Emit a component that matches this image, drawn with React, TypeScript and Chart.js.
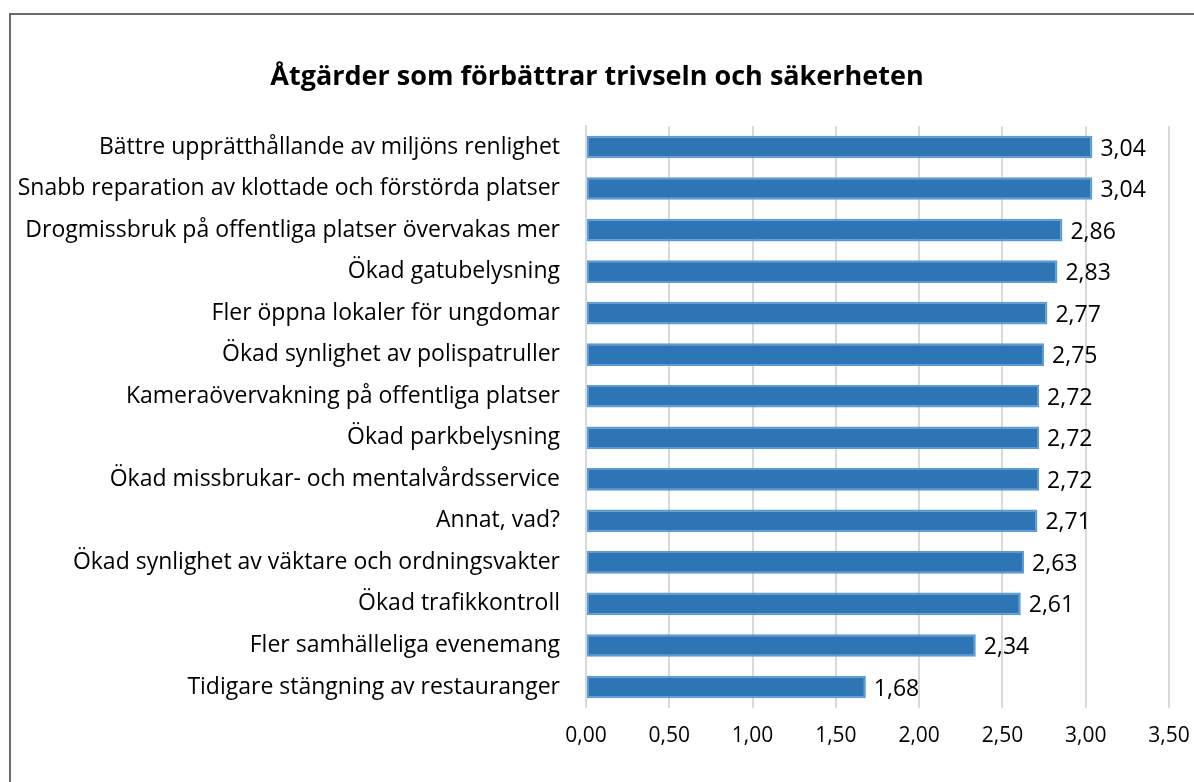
import React, { useEffect, useLayoutEffect, useRef } from "react";
import { Chart, registerables } from "chart.js";

Chart.register(...registerables);

const TITLE = "Åtgärder som förbättrar trivseln och säkerheten";

const categories: string[] = [
  "Bättre upprätthållande av miljöns renlighet",
  "Snabb reparation av klottade och förstörda platser",
  "Drogmissbruk på offentliga platser övervakas mer",
  "Ökad gatubelysning",
  "Fler öppna lokaler för ungdomar",
  "Ökad synlighet av polispatruller",
  "Kameraövervakning på offentliga platser",
  "Ökad parkbelysning",
  "Ökad missbrukar- och mentalvårdsservice",
  "Annat, vad?",
  "Ökad synlighet av väktare och ordningsvakter",
  "Ökad trafikkontroll",
  "Fler samhälleliga evenemang",
  "Tidigare stängning av restauranger",
];

const values: number[] = [3.04, 3.04, 2.86, 2.83, 2.77, 2.75, 2.72, 2.72, 2.72, 2.71, 2.63, 2.61, 2.34, 1.68];

const xTicks: number[] = [0, 0.5, 1, 1.5, 2, 2.5, 3, 3.5];

const FONT = "'Open Sans', Lato, sans-serif";
const fmt = (v: number) => v.toFixed(2).replace(".", ",");

const labelPlugin = {
  id: "barValueLabels",
  afterDatasetsDraw(chart: any) {
    const ctx = chart.ctx;
    const meta = chart.getDatasetMeta(0);
    ctx.save();
    ctx.font = `23px ${FONT}`;
    ctx.fillStyle = "#000000";
    ctx.textAlign = "left";
    ctx.textBaseline = "middle";
    meta.data.forEach((bar: any, i: number) => {
      ctx.fillText(fmt(values[i]), bar.x + 8, bar.y + 2);
    });
    ctx.restore();
  },
};

const W = 1194;
const H = 782;

export default function App() {
  const canvasRef = useRef<HTMLCanvasElement | null>(null);

  useLayoutEffect(() => {
    document.body.style.margin = "0";
    document.body.style.overflow = "hidden";
  }, []);

  useEffect(() => {
    if (!canvasRef.current) return;
    const chart = new Chart(canvasRef.current, {
      type: "bar",
      data: {
        labels: categories,
        datasets: [
          {
            data: values,
            backgroundColor: "#2E75B6",
            borderColor: "#5B9BD5",
            borderWidth: 2,
            borderSkipped: false,
            categoryPercentage: 1,
            barPercentage: 0.545,
          },
        ],
      },
      options: {
        indexAxis: "y",
        animation: false,
        responsive: false,
        maintainAspectRatio: false,
        layout: { padding: 0 },
        plugins: {
          legend: { display: false },
          tooltip: { enabled: false },
          title: {
            display: true,
            text: TITLE,
            color: "#000000",
            font: { family: FONT, size: 27, weight: "bold", lineHeight: 1.2 },
            padding: { top: 61, bottom: 32.8 },
          },
        },
        scales: {
          x: {
            min: 0,
            max: 3.5,
            afterBuildTicks: (scale: any) => {
              scale.ticks = xTicks.map((v) => ({ value: v }));
            },
            afterFit: (scale: any) => {
              scale.height = 74.2;
              scale.paddingLeft = 0;
              scale.paddingRight = 25;
            },
            ticks: {
              callback: (v: any) => fmt(Number(v)),
              color: "#000000",
              font: { family: FONT, size: 21 },
              padding: 16,
              maxRotation: 0,
            },
            grid: { color: "#d9d9d9", lineWidth: 2, drawTicks: false },
            border: { display: false },
          },
          y: {
            afterFit: (scale: any) => {
              scale.width = 586;
            },
            ticks: {
              color: "#000000",
              font: { family: FONT, size: 23 },
              padding: 26,
              autoSkip: false,
            },
            grid: { display: false, drawTicks: false },
            border: { display: true, color: "#d9d9d9", width: 2 },
          },
        },
      },
      plugins: [labelPlugin],
    } as any);
    return () => chart.destroy();
  }, []);

  return (
    <div style={{ position: "relative", width: W, height: H, overflow: "hidden" }}>
      <div
        style={{
          position: "absolute",
          left: 9,
          top: 13,
          width: 1300,
          height: 900,
          borderTop: "2px solid #6b6b6b",
          borderLeft: "2px solid #6b6b6b",
          boxSizing: "border-box",
        }}
      />
      <canvas
        ref={canvasRef}
        width={W}
        height={H}
        style={{ position: "absolute", left: 0, top: 0, width: W, height: H }}
      />
    </div>
  );
}
